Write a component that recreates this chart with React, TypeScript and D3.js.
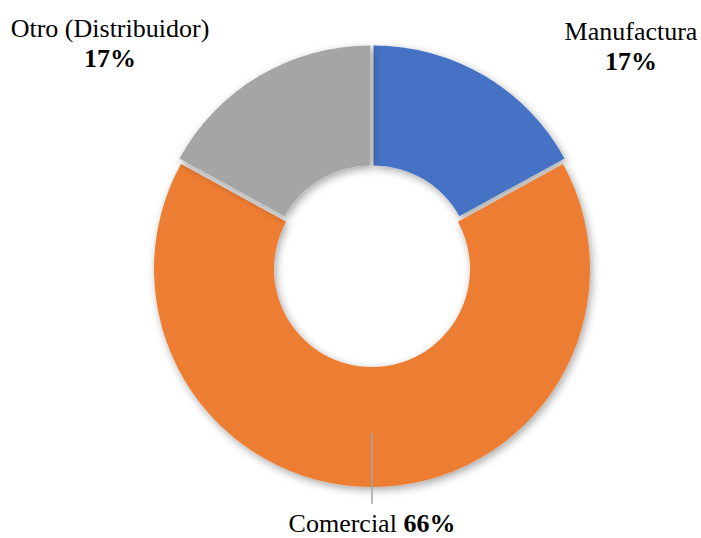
import * as d3 from 'd3';

const CATEGORIES = ['Manufactura', 'Comercial', 'Otro (Distribuidor)'];
const VALUES = [17, 66, 17];
const COLORS = ['#4472C4', '#ED7D31', '#A5A5A5'];

const WIDTH = 701;
const HEIGHT = 538;
const CX = 372;
const CY = 266;
const OUTER = 218;
const INNER = 98;
const EXPLODE = 3;

// label anchors (centre of text block), by slice index
const LABEL_POS = [
    {x: 631, y: 40, inline: false},
    {x: 372, y: 532, inline: true},
    {x: 110, y: 37, inline: false}
];

export default function App() {
    const pie = d3.pie<number>().value((d) => d).sort(null);
    const arcs = pie(VALUES);
    const arc = d3.arc<d3.PieArcDatum<number>>().innerRadius(INNER).outerRadius(OUTER);

    const textStyle = {fontFamily: 'Liberation Serif, Times New Roman, serif', fontSize: '26px'};

    return (
        <svg width={WIDTH} height={HEIGHT} style={{position: 'absolute', left: 0, top: 0}}>
            <defs>
                <filter id="shadow" x="-20%" y="-20%" width="140%" height="140%">
                    <feDropShadow dx="2" dy="3" stdDeviation="4" floodColor="#000" floodOpacity="0.35" />
                </filter>
            </defs>
            <rect width={WIDTH} height={HEIGHT} fill="#fff" />
            <g transform={`translate(${CX}, ${CY})`}>
                {arcs.map((a, i) => {
                    const mid = (a.startAngle + a.endAngle) / 2;
                    const dx = Math.sin(mid) * EXPLODE;
                    const dy = -Math.cos(mid) * EXPLODE;
                    return (
                        <path key={CATEGORIES[i]}
                            d={arc(a) || ''}
                            transform={`translate(${dx}, ${dy})`}
                            fill={COLORS[i]}
                            filter="url(#shadow)" />
                    );
                })}
            </g>
            {/* leader line for Comercial */}
            <line x1={CX} x2={CX} y1={433} y2={504} stroke="#A5A5A5" strokeWidth={1.5} />
            {arcs.map((a, i) => {
                const p = LABEL_POS[i];
                const pct = `${VALUES[i]}%`;
                if (p.inline) {
                    return (
                        <text key={i} x={p.x} y={p.y} textAnchor="middle" style={textStyle} fill="#000">
                            {CATEGORIES[i]} <tspan fontWeight="bold">{pct}</tspan>
                        </text>
                    );
                }
                return (
                    <text key={i} x={p.x} y={p.y} textAnchor="middle" style={textStyle} fill="#000">
                        {CATEGORIES[i]}
                        <tspan x={p.x} dy={30} fontWeight="bold">{pct}</tspan>
                    </text>
                );
            })}
        </svg>
    );
}
